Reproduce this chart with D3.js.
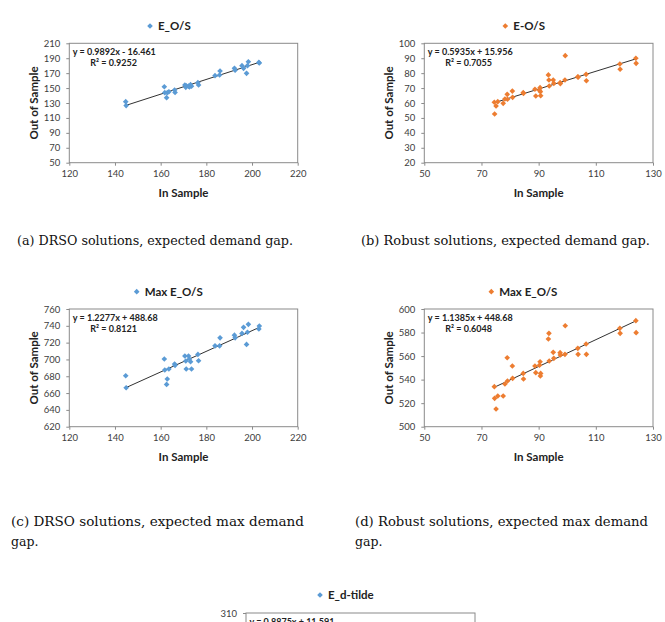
<!DOCTYPE html>
<html>
<head>
<meta charset="utf-8">
<script src="https://cdn.jsdelivr.net/npm/d3@7"></script>
<style>
body{margin:0;background:#fff;}
.tick text{font-family:Lato,"Open Sans",sans-serif;font-size:9.5px;fill:#404040;}
</style>
</head>
<body>
<div id="fig"></div>
<script>
// in-sample values of the DRSO solutions (shared by panels a and c)
var drsoIn = [144.7,144.9,161.6,161.8,162.6,162.9,163.6,166.1,166.3,170.6,171.0,171.2,172.2,172.6,173.1,173.5,176.3,176.6,183.8,185.8,186.0,192.3,192.6,195.6,196.3,197.6,198.0,198.4,203.0,203.2];
var drsoExpOut = [131.8,126.5,151.8,143.8,137.1,143.8,145.1,147.4,144.2,154.1,151.0,153.0,152.6,151.5,154.6,152.5,157.2,154.1,166.6,167.5,172.9,176.5,174.0,180.0,176.5,169.8,180.0,185.3,184.4,183.6];
var drsoMaxOut = [680.6,666.3,700.5,687.4,670.3,676.7,688.6,694.6,693.0,704.1,698.1,688.6,704.1,700.5,697.3,688.6,706.0,698.5,716.2,716.2,725.7,728.9,725.7,731.0,738.2,717.9,732.3,741.8,736.2,739.8];

// robust solutions (panels b and d)
var robustIn = [74.5,74.6,75.1,75.7,77.6,78.2,79.0,79.1,80.8,80.9,84.6,84.7,88.7,89.0,90.3,90.5,90.6,90.7,93.4,93.6,93.7,95.1,95.3,97.5,97.6,99.2,99.3,103.7,103.8,106.6,106.7,118.4,118.5,124.0,124.1];
var robustExpOut = [60.5,52.6,58.0,60.9,59.8,62.7,65.8,62.5,68.0,63.8,66.9,66.5,69.2,64.7,68.5,70.3,67.6,64.9,78.8,75.4,71.4,75.4,73.2,73.6,73.0,75.4,91.7,77.6,77.3,79.2,74.9,86.1,82.6,90.0,86.6];
var robustMaxOut = [534.0,524.1,515.0,526.1,526.1,536.3,558.6,538.8,551.6,541.1,545.3,540.5,551.6,545.9,552.3,555.2,543.1,545.3,574.5,579.3,555.8,563.2,558.1,562.9,561.0,561.5,585.8,566.6,561.5,570.3,561.5,583.6,579.3,590.1,579.9];

// trendlines (a, b, c, d, e)
var slopes = [0.9892, 0.5935, 1.2277, 1.1385, 0.8875];
var intercepts = [-16.461, 15.956, 488.68, 448.68, 11.591];
var rSquared = [0.9252, 0.7055, 0.8121, 0.6048, null];

var titles = ["E_O/S", "E-O/S", "Max E_O/S", "Max E_O/S", "E_d-tilde"];

var xTicksDrso = [120,140,160,180,200,220];
var xTicksRobust = [50,70,90,110,130];
var yTicksA = [50,70,90,110,130,150,170,190,210];
var yTicksB = [20,30,40,50,60,70,80,90,100];
var yTicksC = [620,640,660,680,700,720,740,760];
var yTicksD = [500,520,540,560,580,600];
var yTicksE = [310];

var blue = "#5b9bd5", orange = "#ed7d31";

var svg = d3.select("#fig").append("svg")
  .attr("width", 665)
  .attr("height", 622)
  .style("font-family", "Lato, 'Open Sans', sans-serif");

var diamond = d3.symbol().type(d3.symbolSquare).size(16);

function fmtEq(k){
  var b = intercepts[k];
  return "y = " + slopes[k].toFixed(4) + "x " + (b < 0 ? "- " : "+ ") + Math.abs(b);
}

function drawPanel(p){
  var g = svg.append("g");
  var x = d3.scaleLinear().domain(d3.extent(p.xTicks.length ? p.xTicks : [0,1])).range([p.x0, p.x1]);
  var y = d3.scaleLinear().domain([p.yMin, d3.max(p.yTicks)]).range([p.y1, p.y0]);

  // legend / title
  g.append("path")
    .attr("d", diamond())
    .attr("transform", "translate(" + p.tx + "," + p.ty + ") rotate(45)")
    .style("fill", p.color);
  g.append("text")
    .attr("x", p.tx + 8)
    .attr("y", p.ty)
    .attr("dy", "0.36em")
    .style("font-size", "11.5px")
    .style("font-weight", "bold")
    .style("fill", "#222")
    .text(titles[p.k]);

  // plot area border
  g.append("rect")
    .attr("x", p.x0).attr("y", p.y0)
    .attr("width", p.x1 - p.x0).attr("height", p.y1 - p.y0)
    .style("fill", "none")
    .style("stroke", "#8a8a8a")
    .style("stroke-width", 1);

  var ya = g.append("g")
    .attr("transform", "translate(" + p.x0 + ",0)")
    .call(d3.axisLeft(y).tickValues(p.yTicks).tickSize(3).tickPadding(6));
  ya.select(".domain").remove();
  ya.selectAll(".tick line").style("stroke", "#8a8a8a");

  if(p.xTicks.length){
    var xa = g.append("g")
      .attr("transform", "translate(0," + p.y1 + ")")
      .call(d3.axisBottom(x).tickValues(p.xTicks).tickSize(3).tickPadding(5));
    xa.select(".domain").remove();
    xa.selectAll(".tick line").style("stroke", "#8a8a8a");

    g.append("text")
      .attr("x", (p.x0 + p.x1) / 2)
      .attr("y", p.y1 + 30)
      .attr("dy", "0.36em")
      .attr("text-anchor", "middle")
      .style("font-size", "11.5px")
      .style("font-weight", "bold")
      .style("fill", "#222")
      .text("In Sample");

    g.append("text")
      .attr("transform", "translate(" + (p.x0 - 35) + "," + ((p.y0 + p.y1) / 2) + ") rotate(-90)")
      .attr("dy", "0.36em")
      .attr("text-anchor", "middle")
      .style("font-size", "11.5px")
      .style("font-weight", "bold")
      .style("fill", "#222")
      .text("Out of Sample");

    // trendline
    var ext = d3.extent(p.xs);
    g.append("line")
      .attr("x1", x(ext[0])).attr("y1", y(slopes[p.k] * ext[0] + intercepts[p.k]))
      .attr("x2", x(ext[1])).attr("y2", y(slopes[p.k] * ext[1] + intercepts[p.k]))
      .style("stroke", "#1a1a1a")
      .style("stroke-width", 0.9);

    // points
    g.selectAll(".pt").data(p.xs).enter().append("path")
      .attr("class", "pt")
      .attr("d", diamond())
      .attr("transform", function(d, i){ return "translate(" + x(d) + "," + y(p.ys[i]) + ") rotate(45)"; })
      .style("fill", p.color);
  }

  // equation and R^2
  g.append("text")
    .attr("x", p.x0 + 3.5).attr("y", p.y0 + 8.5).attr("dy", "0.36em")
    .style("font-size", "9px").style("font-weight", "bold").style("fill", "#222")
    .text(fmtEq(p.k));
  if(rSquared[p.k] !== null){
    g.append("text")
      .attr("x", p.x0 + 21).attr("y", p.y0 + 19.5).attr("dy", "0.36em")
      .style("font-size", "9px").style("font-weight", "bold").style("fill", "#222")
      .text("R\u00b2 = " + rSquared[p.k]);
  }
}

drawPanel({k:0, xs:drsoIn, ys:drsoExpOut, color:blue, xTicks:xTicksDrso, yTicks:yTicksA, yMin:50,
  x0:69.3, x1:297.7, y0:43.3, y1:162.7, tx:150, ty:26});
drawPanel({k:1, xs:robustIn, ys:robustExpOut, color:orange, xTicks:xTicksRobust, yTicks:yTicksB, yMin:20,
  x0:424.3, x1:653, y0:43.3, y1:162.7, tx:505.3, ty:26});
drawPanel({k:2, xs:drsoIn, ys:drsoMaxOut, color:blue, xTicks:xTicksDrso, yTicks:yTicksC, yMin:620,
  x0:69.3, x1:297.7, y0:309, y1:426.7, tx:136.7, ty:291.7});
drawPanel({k:3, xs:robustIn, ys:robustMaxOut, color:orange, xTicks:xTicksRobust, yTicks:yTicksD, yMin:500,
  x0:424.3, x1:653, y0:309, y1:426.7, tx:491.3, ty:291.7});
drawPanel({k:4, xs:[], ys:[], color:blue, xTicks:[], yTicks:yTicksE, yMin:150,
  x0:246, x1:475, y0:613, y1:731, tx:320, ty:595});

// captions
var capFont = "'DejaVu Serif', 'Liberation Serif', serif";
function caption(txt, x, yb, w){
  var t = svg.append("text")
    .attr("x", x).attr("y", yb)
    .style("font-family", capFont)
    .style("font-size", "12.5px")
    .style("fill", "#111")
    .text(txt);
  if(w) t.attr("textLength", w).attr("lengthAdjust", "spacingAndGlyphs");
}
caption("(a) DRSO solutions, expected demand gap.", 17, 245, 276);
caption("(b) Robust solutions, expected demand gap.", 361, 245, 289);
caption("(c) DRSO solutions, expected max demand", 11, 525.5, 293);
caption("gap.", 11, 546);
caption("(d) Robust solutions, expected max demand", 355, 525.5, 293);
caption("gap.", 355, 546);
</script>
</body>
</html>
